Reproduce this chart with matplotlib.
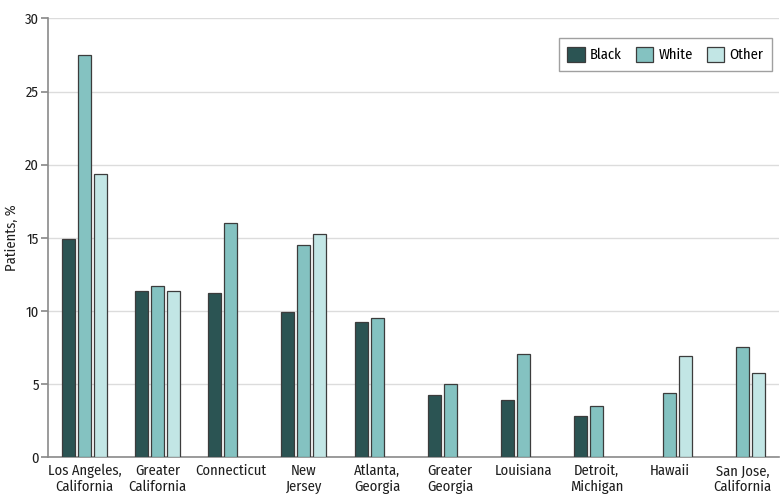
import matplotlib
matplotlib.use("Agg")
import matplotlib.pyplot as plt
import numpy as np

categories = ["Los Angeles,\nCalifornia", "Greater\nCalifornia", "Connecticut", "New\nJersey",
              "Atlanta,\nGeorgia", "Greater\nGeorgia", "Louisiana", "Detroit,\nMichigan",
              "Hawaii", "San Jose,\nCalifornia"]
black = [14.9, 11.4, 11.2, 9.9, 9.25, 4.25, 3.9, 2.85, np.nan, np.nan]
white = [27.5, 11.7, 16.0, 14.5, 9.5, 5.0, 7.05, 3.5, 4.4, 7.55]
other = [19.35, 11.35, np.nan, 15.25, np.nan, np.nan, np.nan, np.nan, 6.9, 5.75]
series_names = ["Black", "White", "Other"]
colors = ["#2b5453", "#84c2c1", "#c2e6e5"]
yticks = [0, 5, 10, 15, 20, 25, 30]

plt.rcParams["font.family"] = ["Fira Sans Condensed", "DejaVu Sans"]

fig = plt.figure(figsize=(7.8, 5.04), dpi=100)
ax = fig.add_axes([0.0615, 0.0927, 0.9375, 0.8706])

x = np.arange(len(categories))
pitch = 0.219
width = 0.178
for i, (vals, c, n) in enumerate(zip([black, white, other], colors, series_names)):
    ax.bar(x + (i - 1) * pitch, vals, width, color=c, edgecolor="#3c3c3c",
           linewidth=0.9, label=n, zorder=3)

fs = 10.5
ax.set_xlim(-0.5, 9.5)
ax.set_ylim(0, 30)
ax.set_yticks(yticks)
ax.set_yticklabels([str(t) for t in yticks], fontsize=fs, color="#1e1e1e")
ax.set_xticks(x)
ax.set_xticklabels(categories, fontsize=fs, color="#1e1e1e", linespacing=1.12)
ax.tick_params(axis="x", length=0, pad=5)
ax.tick_params(axis="y", length=5, color="#888888", width=1.2, pad=1.5)
ax.grid(axis="y", color="#dcdcdc", linewidth=1, zorder=0)
for s in ["top", "right"]:
    ax.spines[s].set_visible(False)
for s in ["left", "bottom"]:
    ax.spines[s].set_color("#8a8a8a")
    ax.spines[s].set_linewidth(1.2)
ax.set_ylabel("Patients, %", fontsize=fs, color="#1e1e1e", labelpad=4)

leg = ax.legend(loc="upper right", bbox_to_anchor=(0.990, 0.9556), ncol=3, fontsize=fs,
                frameon=True, fancybox=False, edgecolor="#888888", handlelength=1.2,
                handleheight=1.25, handletextpad=0.35, columnspacing=0.95, borderpad=0.6,
                borderaxespad=0)
leg.get_frame().set_linewidth(1.0)

fig.savefig("out.png", dpi=100)
